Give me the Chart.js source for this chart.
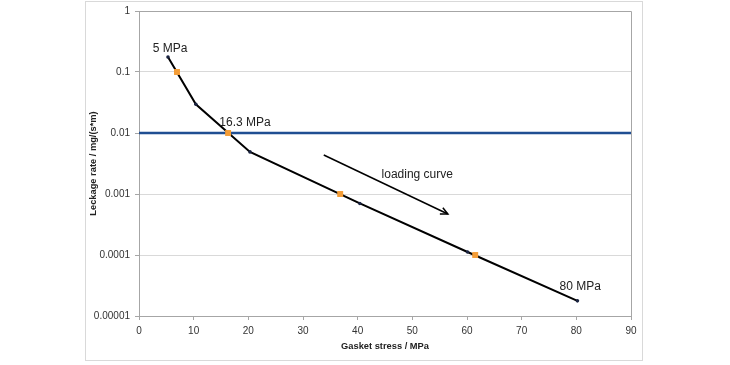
<!DOCTYPE html>
<html>
<head>
<meta charset="utf-8">
<script src="https://cdn.jsdelivr.net/npm/chart.js@4.4.1/dist/chart.umd.min.js"></script>
<style>
html,body{margin:0;padding:0;background:#fff;}
#wrap{width:730px;height:365px;}
</style>
</head>
<body>
<div id="wrap"><canvas id="c" width="730" height="365"></canvas></div>
<script>
// ---- data ----
const curveStress = [5.3, 10.4, 20.3, 40.4, 60.1, 80.2];
const curveRate   = [0.176, 0.0296, 0.0049, 0.0007, 0.000112, 0.0000177];
const markStress  = [6.95, 16.3, 36.8, 61.5];
const markRate    = [0.1, 0.01, 0.001, 0.0001];
const limitStress = [0, 90];
const limitRate   = [0.01, 0.01];
const arrowStress = [33.8, 56.5];
const arrowRate   = [0.00436, 0.00047];
const yTickValues = [1, 0.1, 0.01, 0.001, 0.0001, 0.00001];
const yTickLabels = ['1', '0.1', '0.01', '0.001', '0.0001', '0.00001'];
const noteTexts   = ['5 MPa', '16.3 MPa', 'loading curve', '80 MPa'];
const noteStress  = [5.7, 19.4, 50.9, 80.7];
const noteRate    = [0.238, 0.0146, 0.00205, 0.0000299];

const pts = (xs, ys) => xs.map((x, i) => ({x: x, y: ys[i]}));

const framePlugin = {
  id: 'frame',
  beforeDraw(chart) {
    const ctx = chart.ctx;
    ctx.save();
    ctx.fillStyle = '#fff';
    ctx.fillRect(0, 0, chart.width, chart.height);
    ctx.strokeStyle = '#d9d9d9';
    ctx.lineWidth = 1;
    ctx.strokeRect(85.5, 1.5, 557, 359);
    ctx.restore();
  },
  afterDraw(chart) {
    const a = chart.chartArea, ctx = chart.ctx;
    ctx.save();
    ctx.strokeStyle = '#a6a6a6';
    ctx.lineWidth = 1;
    ctx.beginPath();
    ctx.moveTo(Math.round(a.left) + 0.5, Math.round(a.top) + 0.5);
    ctx.lineTo(Math.round(a.right) + 0.5, Math.round(a.top) + 0.5);
    ctx.lineTo(Math.round(a.right) + 0.5, Math.round(a.bottom) + 0.5);
    ctx.stroke();
    ctx.restore();
  }
};

const notesPlugin = {
  id: 'notes',
  afterDatasetsDraw(chart) {
    const ctx = chart.ctx, xs = chart.scales.x, ys = chart.scales.y;
    ctx.save();
    // arrow head
    const meta = chart.getDatasetMeta(2);
    const p0 = meta.data[0], p1 = meta.data[1];
    const ang = Math.atan2(p1.y - p0.y, p1.x - p0.x);
    const L = 8, W = 0.45;
    ctx.strokeStyle = '#000';
    ctx.lineWidth = 1.5;
    ctx.beginPath();
    ctx.moveTo(p1.x - L * Math.cos(ang - W), p1.y - L * Math.sin(ang - W));
    ctx.lineTo(p1.x, p1.y);
    ctx.lineTo(p1.x - L * Math.cos(ang + W), p1.y - L * Math.sin(ang + W));
    ctx.stroke();
    // texts
    ctx.fillStyle = '#222';
    ctx.font = '12px "Liberation Sans", Arial, sans-serif';
    ctx.textAlign = 'center';
    ctx.textBaseline = 'middle';
    noteTexts.forEach((t, i) => {
      ctx.fillText(t, xs.getPixelForValue(noteStress[i]), ys.getPixelForValue(noteRate[i]));
    });
    ctx.restore();
  }
};

new Chart(document.getElementById('c'), {
  type: 'line',
  data: {
    datasets: [
      {
        data: pts(markStress, markRate),
        showLine: false,
        pointStyle: 'rect',
        pointRadius: 4.2,
        backgroundColor: '#f49d37',
        borderColor: '#f49d37',
        borderWidth: 0,
        order: 0
      },
      {
        data: pts(curveStress, curveRate),
        borderColor: '#000',
        borderWidth: 2,
        pointRadius: 1.8,
        pointBackgroundColor: '#1a2340',
        pointBorderWidth: 0,
        tension: 0,
        order: 1
      },
      {
        data: pts(arrowStress, arrowRate),
        borderColor: '#000',
        borderWidth: 1.5,
        pointRadius: 0,
        order: 2
      },
      {
        data: pts(limitStress, limitRate),
        borderColor: '#1f4e92',
        borderWidth: 2.5,
        pointRadius: 0,
        order: 3
      }
    ]
  },
  options: {
    responsive: false,
    animation: false,
    devicePixelRatio: 1,
    layout: {padding: {left: 85, top: 11, right: 99, bottom: 9}},
    plugins: {legend: {display: false}, tooltip: {enabled: false}},
    scales: {
      x: {
        type: 'linear',
        min: 0, max: 90,
        ticks: {stepSize: 10, color: '#333', padding: 5, maxRotation: 0,
                font: {family: '"Liberation Sans", Arial, sans-serif', size: 10}},
        grid: {drawOnChartArea: false, drawTicks: true, tickLength: 4, tickColor: '#a6a6a6'},
        border: {color: '#a6a6a6'},
        title: {display: true, text: 'Gasket stress / MPa', color: '#222',
                padding: {top: 2, bottom: 4},
                font: {family: '"Liberation Sans", Arial, sans-serif', size: 9.3, weight: 'bold'}},
        afterFit(s) { s.height = 40; }
      },
      y: {
        type: 'logarithmic',
        min: 0.00001, max: 1,
        afterBuildTicks(s) { s.ticks = yTickValues.map(v => ({value: v})); },
        ticks: {
          color: '#333', padding: 5, autoSkip: false,
          font: {family: '"Liberation Sans", Arial, sans-serif', size: 10},
          callback(v) { const i = yTickValues.findIndex(t => Math.abs(Math.log10(t) - Math.log10(v)) < 1e-6); return i >= 0 ? yTickLabels[i] : ''; }
        },
        grid: {color: '#d9d9d9', tickLength: 4, tickColor: '#a6a6a6'},
        border: {color: '#a6a6a6'},
        title: {display: true, text: 'Leckage rate / mg/(s*m)', color: '#222',
                padding: {top: 3, bottom: 4},
                font: {family: '"Liberation Sans", Arial, sans-serif', size: 9.3, weight: 'bold'}},
        afterFit(s) { s.width = 54; }
      }
    }
  },
  plugins: [framePlugin, notesPlugin]
});
</script>
</body>
</html>
